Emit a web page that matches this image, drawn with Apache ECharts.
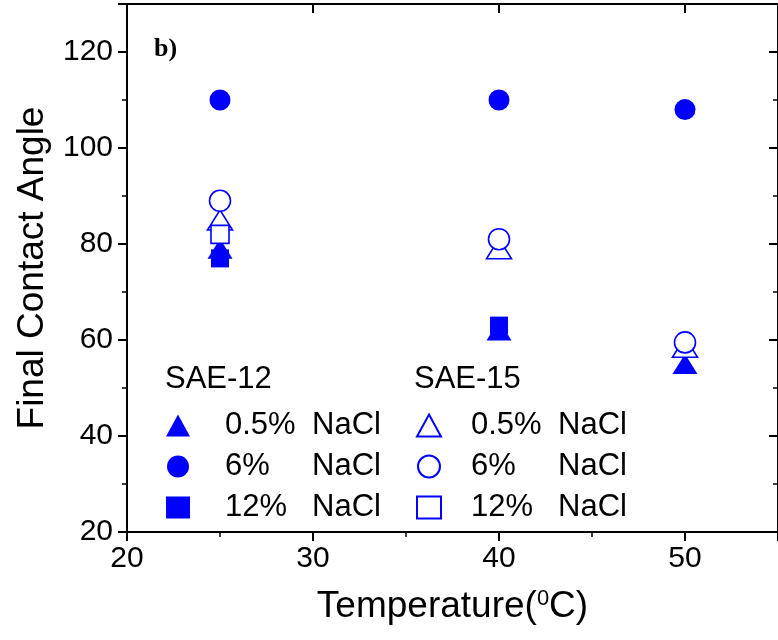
<!DOCTYPE html>
<html>
<head>
<meta charset="utf-8">
<script src="https://cdn.jsdelivr.net/npm/echarts@6/dist/echarts.min.js"></script>
<style>
  html, body { margin: 0; padding: 0; background: #fff; }
  #chart { width: 778px; height: 640px; }
</style>
</head>
<body>
<div id="chart"></div>
<script>
var temps = [25, 40, 50];
// SAE-12 (filled symbols)
var sae12_05 = [79, 62, 55];
var sae12_6 = [110, 110, 108];
var sae12_12 = [77, 63, null];
// SAE-15 (open symbols)
var sae15_05 = [85, 79, 58.5];
var sae15_6 = [89, 81, 59.5];
var sae15_12 = [82, null, null];
var salts = ['0.5%', '6%', '12%'];
var xTicks = [20, 55, 10];
var yTicks = [20, 130, 20];

var blue = '#0000ff';
var font = 'Liberation Sans';

function pts(vals) {
    var out = [];
    for (var i = 0; i < temps.length; i++) {
        if (vals[i] != null) out.push([temps[i], vals[i]]);
    }
    return out;
}

function serie(name, vals, symbol, size, open) {
    return {
        name: name,
        type: 'scatter',
        data: pts(vals),
        symbol: symbol,
        symbolSize: size,
        itemStyle: open
            ? { color: '#fff', borderColor: blue, borderWidth: 1.6, opacity: 1 }
            : { color: blue, opacity: 1 },
        emphasis: { disabled: true }
    };
}

var axisBase = {
    type: 'value',
    splitLine: { show: false },
    axisLine: { show: true, onZero: false, lineStyle: { color: '#000', width: 2 } },
    minorTick: { show: true, splitNumber: 2, length: 5, lineStyle: { color: '#000', width: 1.5 } },
    axisTick: { show: true, length: 9, lineStyle: { color: '#000', width: 2 } }
};

function axis(extra) {
    return echarts.util.merge(echarts.util.clone(axisBase), extra, true);
}

function legendText(pad) {
    return {
        fontFamily: font,
        fontSize: 31,
        color: '#000',
        rich: {
            p: { fontFamily: font, fontSize: 31, width: 87, lineHeight: 30, padding: [0, 0, 0, pad] },
            n: { fontFamily: font, fontSize: 31, lineHeight: 30 }
        }
    };
}

function legendFmt(name) {
    var pct = name.split(' ')[1];
    return '{p|' + pct + '}{n|NaCl}';
}

var names12 = [], names15 = [];
for (var i = 0; i < salts.length; i++) {
    names12.push('SAE-12 ' + salts[i]);
    names15.push('SAE-15 ' + salts[i]);
}

var chart = echarts.init(document.getElementById('chart'));
chart.setOption({
    animation: false,
    grid: { left: 127, right: 0, top: 4, bottom: 108 },
    xAxis: [
        axis({
            min: xTicks[0], max: xTicks[1], interval: xTicks[2],
            position: 'bottom',
            axisLabel: { fontFamily: font, fontSize: 30, color: '#000', margin: 12, showMaxLabel: false },
            name: 'Temperature({s|0}C)',
            nameLocation: 'middle',
            nameGap: 56,
            nameTextStyle: {
                fontFamily: font, fontSize: 37, color: '#000',
                rich: { s: { fontFamily: font, fontSize: 22, color: '#000', verticalAlign: 'top', padding: [0, 0, 14, 0] } }
            }
        }),
        axis({
            min: xTicks[0], max: xTicks[1], interval: xTicks[2],
            position: 'top',
            axisTick: { inside: true },
            minorTick: { show: false },
            axisLabel: { show: false }
        })
    ],
    yAxis: [
        axis({
            min: yTicks[0], max: yTicks[1], interval: yTicks[2],
            position: 'left',
            axisLabel: { fontFamily: font, fontSize: 30, color: '#000', margin: 14, showMaxLabel: false },
            name: 'Final Contact Angle',
            nameLocation: 'middle',
            nameGap: 76,
            nameTextStyle: { fontFamily: font, fontSize: 37, color: '#000' }
        }),
        axis({
            min: yTicks[0], max: yTicks[1], interval: yTicks[2],
            position: 'right',
            axisTick: { inside: true },
            minorTick: { show: true, splitNumber: 2 },
            axisLabel: { show: false }
        })
    ],
    legend: [
        {
            data: names12,
            orient: 'vertical',
            left: 166, top: 410,
            itemWidth: 24, itemHeight: 22, itemGap: 10,
            padding: 0,
            selectedMode: false,
            formatter: legendFmt,
            textStyle: legendText(30)
        },
        {
            data: names15,
            orient: 'vertical',
            left: 416, top: 410,
            itemWidth: 24, itemHeight: 22, itemGap: 10,
            padding: 0,
            selectedMode: false,
            formatter: legendFmt,
            textStyle: legendText(25)
        }
    ],
    graphic: [
        { type: 'text', left: 165, top: 364, style: { text: 'SAE-12', font: '31px "Liberation Sans"', fill: '#000' } },
        { type: 'text', left: 414, top: 364, style: { text: 'SAE-15', font: '31px "Liberation Sans"', fill: '#000' } },
        { type: 'text', left: 154, top: 36, style: { text: 'b)', font: 'bold 26px "Liberation Serif"', fill: '#000' } }
    ],
    series: [
        serie('SAE-12 0.5%', sae12_05, 'triangle', [25, 20], false),
        serie('SAE-12 12%', sae12_12, 'rect', 18, false),
        serie('SAE-12 6%', sae12_6, 'circle', 21, false),
        serie('SAE-15 0.5%', sae15_05, 'triangle', [25, 20], true),
        serie('SAE-15 12%', sae15_12, 'rect', 18, true),
        serie('SAE-15 6%', sae15_6, 'circle', 21, true)
    ]
});
</script>
</body>
</html>
